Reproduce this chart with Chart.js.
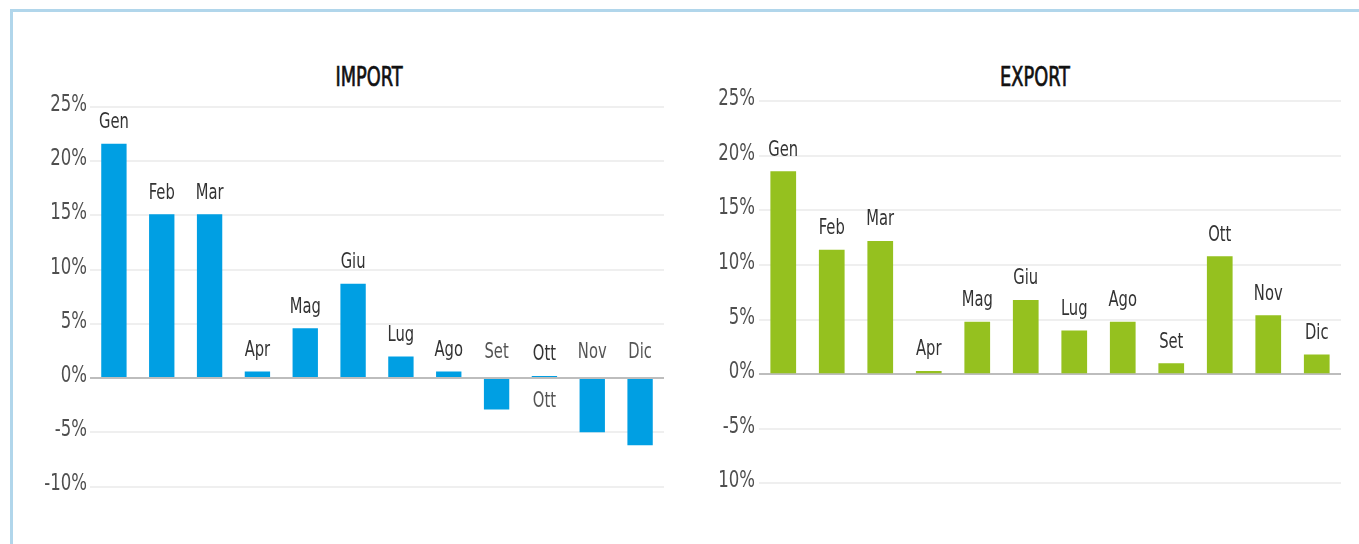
<!DOCTYPE html>
<html>
<head>
<meta charset="utf-8">
<script src="https://cdn.jsdelivr.net/npm/chart.js@4/dist/chart.umd.min.js"></script>
<style>
  body { margin: 0; width: 1359px; height: 544px; overflow: hidden; background: #fff; }
  #frame { position: absolute; left: 10px; top: 9px; width: 1400px; height: 600px; border: 3px solid #b1d6eb; }
  canvas { position: absolute; top: 0; }
  .title { position: absolute; top: 62px; line-height: 26px; transform: translateX(-50%) scaleX(0.76);
           font: 26px 'DejaVu Sans Condensed', sans-serif; color: #111; white-space: nowrap;
           -webkit-text-stroke: 0.7px #111; }
</style>
</head>
<body>
<div id="frame"></div>
<div class="title" style="left:369px">IMPORT</div>
<div class="title" style="left:1035px">EXPORT</div>
<canvas id="importChart" width="680" height="544" style="left:0"></canvas>
<canvas id="exportChart" width="679" height="544" style="left:680px"></canvas>
<script>
// months and monthly % change
const months = ['Gen', 'Feb', 'Mar', 'Apr', 'Mag', 'Giu', 'Lug', 'Ago', 'Set', 'Ott', 'Nov', 'Dic'];
const importValues = [21.6, 15.1, 15.1, 0.6, 4.6, 8.7, 2.0, 0.6, -2.9, 0.2, -5.0, -6.2];
const exportValues = [18.6, 11.4, 12.2, 0.3, 4.8, 6.8, 4.0, 4.8, 1.0, 10.8, 5.4, 1.8];

// tick labels (top to bottom)
const tickValues = [25, 20, 15, 10, 5, 0, -5, -10];
const importTicks = ['25%', '20%', '15%', '10%', '5%', '0%', '-5%', '-10%'];
const exportTicks = ['25%', '20%', '15%', '10%', '5%', '0%', '-5%', '10%'];

// labels that also show up under the zero line
const importBelow = ['Ott'];
const exportBelow = [];

const fontFamily = "'DejaVu Sans Condensed', sans-serif";

// condensed text: squeeze the glyphs horizontally
function narrowText(ctx, text, x, y, align, sx) {
    ctx.save();
    ctx.translate(x, y);
    ctx.scale(sx, 1);
    ctx.textAlign = align;
    ctx.fillText(text, 0, 0);
    ctx.restore();
}

// y tick labels, drawn narrow
const narrowTicks = {
    id: 'narrowTicks',
    afterDraw(chart, args, opts) {
        const ctx = chart.ctx;
        const y = chart.scales.y;
        ctx.save();
        ctx.font = '23px ' + fontFamily;
        ctx.fillStyle = '#4f4f4f';
        ctx.textBaseline = 'middle';
        y.ticks.forEach(t => {
            const i = tickValues.indexOf(t.value);
            if (i < 0) return;
            narrowText(ctx, opts.labels[i], chart.chartArea.left - opts.gap, y.getPixelForValue(t.value) - 2, 'right', 0.8);
        });
        ctx.restore();
    }
};

// month names drawn over the bars
const monthLabels = {
    id: 'monthLabels',
    afterDatasetsDraw(chart, args, opts) {
        const ctx = chart.ctx;
        const meta = chart.getDatasetMeta(0);
        const zero = chart.scales.y.getPixelForValue(0);
        const data = chart.data.datasets[0].data;
        ctx.save();
        ctx.font = '21px ' + fontFamily;
        ctx.textBaseline = 'middle';
        meta.data.forEach((bar, i) => {
            const v = data[i];
            if (v >= 0) {
                ctx.fillStyle = '#333';
                narrowText(ctx, chart.data.labels[i], bar.x, bar.y - 21, 'center', 0.78);
            } else {
                ctx.fillStyle = '#555';
                narrowText(ctx, chart.data.labels[i], bar.x, zero - 26, 'center', 0.78);
            }
        });
        (opts.below || []).forEach(lbl => {
            const i = chart.data.labels.indexOf(lbl);
            if (i < 0) return;
            ctx.fillStyle = '#555';
            narrowText(ctx, lbl, meta.data[i].x, zero + 23, 'center', 0.78);
        });
        ctx.restore();
    }
};

function makeChart(id, values, color, ticks, below, axisWidth, gap, pad) {
    return new Chart(document.getElementById(id), {
        type: 'bar',
        data: {
            labels: months,
            datasets: [{
                data: values,
                backgroundColor: color,
                borderWidth: 0,
                barPercentage: 0.53,
                categoryPercentage: 1
            }]
        },
        options: {
            responsive: false,
            animation: false,
            layout: { padding: pad },
            plugins: {
                legend: { display: false },
                tooltip: { enabled: false },
                monthLabels: { below: below },
                narrowTicks: { labels: ticks, gap: gap }
            },
            scales: {
                x: { display: false },
                y: {
                    min: -10,
                    max: 25,
                    afterFit: scale => { scale.width = axisWidth; },
                    border: { display: false },
                    grid: {
                        drawTicks: false,
                        lineWidth: 2,
                        color: c => c.tick && c.tick.value === 0 ? '#bdbdbd' : '#efefef'
                    },
                    ticks: {
                        stepSize: 5,
                        display: false
                    }
                }
            }
        },
        plugins: [monthLabels, narrowTicks]
    });
}

makeChart('importChart', importValues, '#009fe3', importTicks, importBelow, 90, 3,
    { left: 0, right: 16, top: 107, bottom: 57.5 });
makeChart('exportChart', exportValues, '#95c11f', exportTicks, exportBelow, 79, 4,
    { left: 0, right: 18, top: 101.3, bottom: 60.7 });
</script>
</body>
</html>
